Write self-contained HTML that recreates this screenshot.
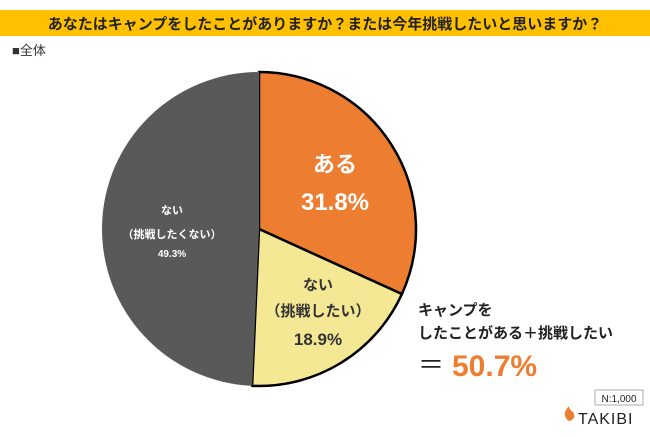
<!DOCTYPE html>
<html><head><meta charset="utf-8"><style>
body{margin:0;background:#fff;width:650px;height:432px;overflow:hidden;font-family:"Liberation Sans","Noto Sans CJK JP",sans-serif}
</style></head><body>
<svg width="650" height="432" xmlns="http://www.w3.org/2000/svg" font-family="Liberation Sans, Noto Sans CJK JP, sans-serif">
<rect x="0" y="10" width="650" height="26" fill="#ffc000"/>
<text x="325" y="29" text-anchor="middle" font-size="15" font-weight="bold" fill="#222">あなたはキャンプをしたことがありますか？または今年挑戦したいと思いますか？</text>
<text x="12" y="55" font-size="13" fill="#333">■全体</text>
<g id="pie"></g>
<text x="418" y="315" font-size="15" font-weight="bold" fill="#222">キャンプを</text>
<text x="418" y="338" font-size="15" font-weight="bold" fill="#222">したことがある＋挑戦したい</text>
<text x="418" y="374" font-size="26" fill="#222">＝</text>
<text x="452" y="376" font-size="30" font-weight="bold" fill="#ed7d31">50.7%</text>
<rect x="595" y="390" width="48" height="15" fill="#fff" stroke="#999" stroke-width="0.8"/>
<text x="619" y="402" text-anchor="middle" font-size="10" fill="#222">N:1,000</text>
<text x="578" y="424" font-size="16" fill="#222" letter-spacing="1">TAKIBI</text>
<path d="M569 421 C563 417 564 411 569 406 C569 411 573 410 574 414 C575 418 573 420 569 421Z" fill="#ed7d31"/>
</svg>
<script>
const categories=["ある","ない（挑戦したい）","ない（挑戦したくない）"];
const values=[31.8,18.9,49.3];
const colors=["#ed7d31","#f5e895","#595959"];
const cx=259,cy=229,r=157;
const g=document.getElementById('pie');
const NS="http://www.w3.org/2000/svg";
const total=values.reduce((a,b)=>a+b,0);
function pt(f){const a=f*2*Math.PI-Math.PI/2;return [cx+r*Math.cos(a),cy+r*Math.sin(a)];}
let acc=0;
values.forEach((v,i)=>{
  const s=acc/total,e=(acc+v)/total;acc+=v;
  const [x1,y1]=pt(s),[x2,y2]=pt(e);
  const p=document.createElementNS(NS,'path');
  p.setAttribute('d',`M${cx},${cy}L${x1},${y1}A${r},${r} 0 ${e-s>0.5?1:0} 1 ${x2},${y2}Z`);
  p.setAttribute('fill',colors[i]);
  p.setAttribute('stroke',i<2?'#000':'none');
  p.setAttribute('stroke-width','2.5');
  p.setAttribute('stroke-linejoin','round');
  
  
  g.appendChild(p);
});
function label(x,y,txt,size,weight,fill,name){
  const t=document.createElementNS(NS,'text');
  t.setAttribute('x',x);t.setAttribute('y',y);t.setAttribute('text-anchor','middle');
  t.setAttribute('font-size',size);t.setAttribute('font-weight',weight);t.setAttribute('fill',fill);
  t.textContent=txt;
  
  
  g.appendChild(t);
}
label(335,172,"ある",22,"bold","#fff","label-aru");
label(335,210,values[0].toFixed(1)+"%",24,"bold","#fff","value-aru");
label(318,290,"ない",15,"bold","#333","label-nai-want");
label(318,316,"（挑戦したい）",15,"bold","#333","label-nai-want-sub");
label(318,345,values[1].toFixed(1)+"%",17,"bold","#333","value-nai-want");
label(172,214,"ない",11,"bold","#fff","label-nai");
label(172,238,"（挑戦したくない）",11,"bold","#fff","label-nai-sub");
label(172,257,values[2].toFixed(1)+"%",10,"bold","#fff","value-nai");
</script>
</body></html>
